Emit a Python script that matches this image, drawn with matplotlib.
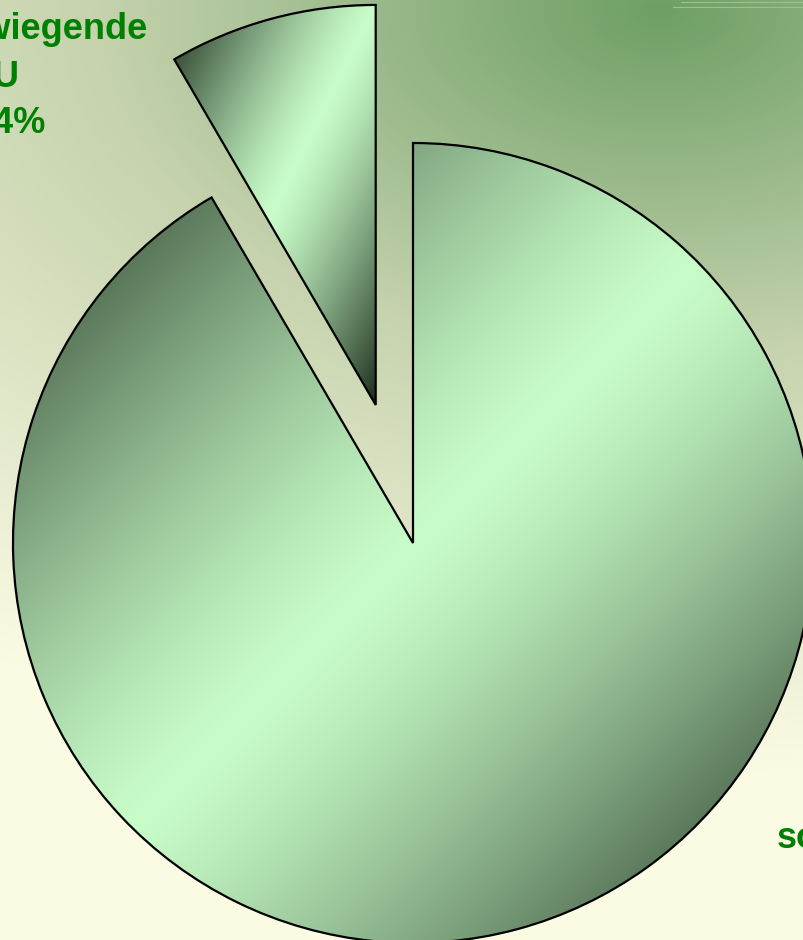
import numpy as np
import matplotlib
matplotlib.use("Agg")
import matplotlib.pyplot as plt
from matplotlib.colors import to_rgb, LinearSegmentedColormap

# Anteile in Prozent
categories = ["überwiegende EU", "sonstige"]
shares = [8.4, 91.6]

W, H = 804, 940
GREEN_TEXT = "#008000"
LIGHT = np.array(to_rgb("#c8fcc8"))
DARK = np.array(to_rgb("#1c2c1c"))


def fmt_pct(v):
    return f"{v:.1f}%".replace(".", ",")


fig = plt.figure(figsize=(W / 100, H / 100), dpi=100)
ax = fig.add_axes([0, 0, 1, 1])

# --- slide background: green in the upper right fading to cream ---
bg_cmap = LinearSegmentedColormap.from_list(
    "slide", [(0.0, "#6e9f66"), (0.45, "#c6d3ae"), (1.0, "#fbfbe4")])
yy, xx = np.mgrid[0:H, 0:W]
dist = np.hypot((xx - 660) / 1.4, (yy - 10) / 0.85)
ax.imshow(np.clip(dist / 900, 0, 1), cmap=bg_cmap, vmin=0, vmax=1,
          extent=(0, W, 0, H), origin="upper", aspect="auto",
          interpolation="bilinear", zorder=0)

# thin decorative rules at the top edge
for y_img, x_start in [(2.3, 681), (7.3, 673)]:
    ax.plot([x_start, W], [H - y_img, H - y_img], color="#9cc08e", lw=0.8, zorder=1)

# --- pie (explode is in data units here, pixels) ---
wedges, _ = ax.pie(
    shares,
    startangle=90,
    counterclock=True,
    explode=[143, 0],
    radius=400,
    center=(413, H - 543),
    wedgeprops=dict(facecolor="none", edgecolor="black", linewidth=1.6, zorder=3),
)

# diagonal gradient: light band along the anti-diagonal, dark towards two corners
n = 400
u = np.linspace(0, 1, n)[None, :]
v = np.linspace(0, 1, n)[:, None]
s = np.abs(u + v - 1) ** 1.3
grad = LIGHT + (DARK - LIGHT) * s[..., None]
for w in wedges:
    verts = w.get_patch_transform().transform(w.get_path().vertices)
    x0, y0 = verts.min(axis=0)
    x1, y1 = verts.max(axis=0)
    im = ax.imshow(grad, extent=(x0, x1, y0, y1), origin="upper",
                   aspect="auto", interpolation="bilinear", zorder=2)
    im.set_clip_path(w)

ax.set_xlim(0, W)
ax.set_ylim(0, H)
ax.set_aspect("auto")
ax.axis("off")

# --- labels ---
font = dict(family="Liberation Sans", fontweight="bold", fontsize=26,
            color=GREEN_TEXT, va="baseline", zorder=4)

small_lines = categories[0].split() + [fmt_pct(shares[0])]
for line, x_right, y_base in zip(small_lines, [148, 20, 46], [39, 87, 133]):
    ax.text(x_right, H - y_base, line, ha="right", **font)

big_lines = [categories[1], fmt_pct(shares[1])]
for line, x_mid, y_base in zip(big_lines, [851, 862], [848, 895]):
    ax.text(x_mid, H - y_base, line, ha="center", **font)

fig.savefig("out.png", dpi=100)
